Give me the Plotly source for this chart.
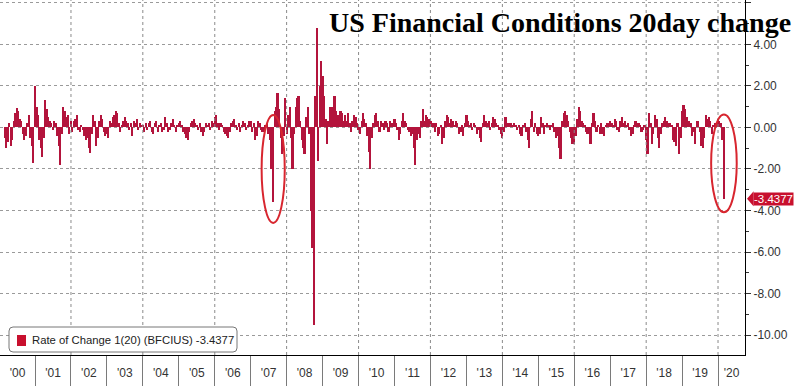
import pandas as pd
import plotly.graph_objects as go

# ---------------- data (semi-monthly samples) ----------------
TITLE = "US Financial Conditions 20day change"
SERIES_NAME = "Rate of Change 1(20) (BFCIUS)"
START = "2000-03-01"

V2000 = [-0.5, -1.0, -0.7, 0.2, -0.9, -0.6, 0.3, 0.7, 0.95, 0.8, 0.4, 0.3, -0.3, -0.6, -0.4, 0.2, 0.6, -0.5, -0.9, -1.7]
V2001 = [2.0, 1.0, 0.6, -0.6, -1.0, -1.4, -0.5, 1.3, 0.9, 0.5, 0.3, 0.2, -0.1, 0.3, 0.2, -0.4, -0.9, -1.8, -0.3, 1.0, 0.8, 0.5, 0.6, -0.3]
V2002 = [0.3, -0.2, 0.3, 0.4, 0.6, -0.1, -0.2, 0.1, -0.1, -0.4, -0.6, -0.5, -1.0, -1.25, -0.3, 0.6, 0.3, -0.9, -0.5, 0.3, 0.6, 0.4, -0.2, -0.4]
V2003 = [-0.3, -0.5, 0.3, 0.2, 0.5, 0.6, 0.8, 0.7, 0.2, -0.2, 0.1, 0.3, 0.5, 0.3, 0.2, -0.1, 0.2, -0.4, 0.3, 0.2, 0.4, -0.1, 0.2, 0.1]
V2004 = [0.1, -0.2, 0.2, -0.1, 0.2, 0.3, -0.2, -0.3, 0.2, 0.3, -0.2, 0.1, 0.2, -0.2, -0.1, 0.5, 0.2, -0.2, -0.1, 0.2, 0.4, 0.1, -0.2, 0.1]
V2005 = [0.2, 0.3, 0.1, -0.2, -0.3, -0.5, -0.6, -0.2, 0.2, 0.3, 0.4, 0.2, 0.1, -0.1, 0.2, -0.2, -0.4, -0.2, 0.2, 0.1, 0.2, -0.1, 0.3, 0.2]
V2006 = [0.5, 0.6, 0.2, -0.1, 0.2, 0.1, -0.2, -0.3, -0.4, -0.5, -0.2, 0.2, 0.3, 0.4, 0.1, -0.1, 0.2, -0.2, 0.1, 0.3, 0.2, -0.1, 0.1, 0.3]
V2007 = [0.3, -0.2, 0.2, -0.6, -0.4, 0.3, 0.2, -0.1, -0.2, -0.2, 0.1, 0.2, -0.3, -0.6, -2.0, -3.6, 0.8, 1.0, 1.65, 0.9, -0.5, -1.3, -0.4, 1.4]
V2008 = [-0.3, 0.6, 1.0, -0.5, -2.0, -0.3, 1.0, 1.4, 1.5, 0.3, -0.6, -1.0, -1.3, 0.5, 1.0, -0.3, -4.0, -5.8, -9.5, 1.5, 4.8, -1.6, 2.0, 3.2]
V2009 = [2.5, 1.5, 0.4, -0.8, 0.3, 1.0, 1.0, 0.8, 1.5, 0.8, 0.6, 0.3, 0.8, 0.7, 0.3, 0.6, 0.3, 0.7, 0.2, -0.2, 0.3, 0.6, 0.5, 0.2]
V2010 = [-0.1, -0.3, 0.3, 0.7, 0.4, 0.2, -0.4, -1.2, -2.0, -0.5, 0.2, 0.6, 0.7, 0.3, -0.2, 0.3, 0.2, -0.1, 0.3, 0.2, -0.2, 0.3, 0.2, 0.1]
V2011 = [0.4, 0.2, -0.1, -0.6, -0.3, 0.3, 0.7, 0.3, 0.2, -0.1, -0.2, -0.4, -0.3, -1.0, -1.8, -0.6, -0.3, -0.5, 0.3, 0.9, 0.3, 0.6, 0.5, 0.4]
V2012 = [0.3, 0.2, 0.2, -0.2, 0.2, -0.4, -0.3, 0.1, -0.8, -0.5, 0.3, 0.6, 0.5, 0.2, 0.4, 0.3, 0.1, 0.3, 0.2, -0.3, -0.2, 0.1, -0.4, 0.2]
V2013 = [0.6, 0.3, 0.1, 0.2, -0.1, 0.2, 0.1, -0.3, -0.1, -0.5, -0.7, 0.2, 0.6, 0.3, 0.2, 0.3, -0.1, 0.2, 0.5, 0.4, 0.2, 0.1, -0.1, -0.3]
V2014 = [-0.5, -0.2, 0.5, 0.2, 0.1, 0.2, 0.2, 0.1, 0.2, 0.1, -0.1, 0.1, -0.3, -0.4, 0.1, 0.2, -0.2, -0.6, -1.0, 0.4, 0.8, -0.2, 0.2, -0.3]
V2015 = [-0.4, -0.3, 0.5, 0.2, -0.3, 0.1, 0.2, 0.1, -0.1, 0.1, 0.2, -0.2, -0.5, -0.4, -1.0, -1.5, 0.3, 0.7, 0.8, 0.6, 0.3, -0.2, -0.5, -0.8]
V2016 = [-0.8, -0.4, 0.4, 1.0, 0.8, 0.3, 0.2, 0.1, -0.2, -0.3, -0.2, -0.8, 0.2, 0.7, 0.3, -0.2, 0.1, -0.3, 0.2, -0.3, -0.4, 0.1, 0.2, 0.2]
V2017 = [0.3, 0.2, 0.1, 0.4, 0.3, -0.1, -0.2, 0.3, 0.5, 0.2, 0.3, 0.1, 0.2, -0.1, -0.4, -0.3, 0.1, 0.3, 0.2, 0.2, 0.1, -0.2, -0.1, 0.1]
V2018 = [-0.6, -1.3, 0.7, 0.2, -0.8, -0.3, 0.6, 0.4, -0.5, -1.0, -0.3, 0.2, 0.3, 0.5, 0.3, 0.2, 0.2, 0.1, -0.6, -0.7, -0.9, 0.2, -1.3, -0.5]
V2019 = [0.8, 1.1, 0.9, 0.5, 0.3, 0.3, 0.2, -0.4, -0.2, -0.8, 0.3, 0.3, -0.2, -0.9, -1.0, -0.5, 0.6, 0.4, 0.5, 0.3, -0.3, 0.1, 0.2, 0.2]
V2020 = [0.4, 0.3, 0.2, -0.6, -3.4377]

YEAR_LABELS = ["'00", "'01", "'02", "'03", "'04", "'05", "'06", "'07", "'08", "'09", "'10",
               "'11", "'12", "'13", "'14", "'15", "'16", "'17", "'18", "'19", "'20"]
YEARS = list(range(2000, 2021))
GRID_YEARS = [2002, 2004, 2006, 2008, 2010, 2012, 2014, 2016, 2018, 2020]
Y_TICKS = [6, 4, 2, 0, -2, -4, -6, -8, -10]
Y_TICK_LABELS = ["6.00", "4.00", "2.00", "0.00", "-2.00", "-4.00", "-6.00", "-8.00", "-10.00"]
Y_MINOR = [5, 3, 1, -1, -3, -5, -7, -9]

# ---------------- style ----------------
BAR_COLOR = "#B3143C"
LABEL_BOX = "#C8102E"
RING_COLOR = "#D8262F"
GRID_COLOR = "#9a9a9a"
VGRID_COLOR = "#8a8a8a"
SANS = "Liberation Sans, Arial, sans-serif"
X_RANGE = [pd.Timestamp("2000-01-11"), pd.Timestamp("2020-10-01")]
Y_RANGE = [-10.96, 6.14]
BAR_WIDTH_MS = 22 * 86400000
PLOT_W, PLOT_H = 745, 355
LEG_BOX = (9, 237, 327, 352)     # px: left, right, top, bottom
LEG_SQUARE = (17, 26, 335, 346)
LEG_TEXT_X = 30

values = (V2000 + V2001 + V2002 + V2003 + V2004 + V2005 + V2006 + V2007 + V2008 + V2009 +
          V2010 + V2011 + V2012 + V2013 + V2014 + V2015 + V2016 + V2017 + V2018 + V2019 + V2020)
dates = pd.date_range(START, periods=len(values), freq="SMS")
last = values[-1]

# year label positions: centre of the visible part of each year
label_pos = []
for y in YEARS:
    a = max(pd.Timestamp(f"{y}-01-01"), X_RANGE[0])
    b = min(pd.Timestamp(f"{y + 1}-01-01"), X_RANGE[1])
    label_pos.append(a + (b - a) / 2)

# dotted vertical grid every other year, drawn as a line trace behind the bars
grid_x, grid_y = [], []
for y in GRID_YEARS:
    d = pd.Timestamp(f"{y}-01-01")
    grid_x += [d, d, None]
    grid_y += [Y_RANGE[0], Y_RANGE[1], None]

fig = go.Figure()
fig.add_trace(go.Scatter(
    x=grid_x, y=grid_y, mode="lines", showlegend=False, hoverinfo="skip",
    line=dict(color=VGRID_COLOR, width=1, dash="dot"),
))
fig.add_trace(go.Bar(
    x=dates, y=values, name=f"{SERIES_NAME} {last:.4f}",
    width=BAR_WIDTH_MS, showlegend=False,
    marker=dict(color=BAR_COLOR, line=dict(width=0)),
))

fig.update_layout(
    width=800, height=386,
    margin=dict(l=0, r=55, t=0, b=31),
    plot_bgcolor="white", paper_bgcolor="white",
    bargap=0,
    showlegend=False,
    xaxis=dict(
        type="date", range=X_RANGE,
        tickmode="array", tickvals=label_pos, ticktext=YEAR_LABELS,
        ticks="", showgrid=False, zeroline=False,
        showline=True, linecolor="black", linewidth=1,
        tickfont=dict(family=SANS, size=12, color="#333"),
        ticklabelstandoff=7,
        minor=dict(tickmode="array",
                   tickvals=[pd.Timestamp(f"{y}-01-01") for y in YEARS],
                   ticks="outside", ticklen=31, tickcolor="#7a7a7a", tickwidth=1,
                   showgrid=False),
    ),
    yaxis=dict(
        side="right", range=Y_RANGE,
        tickmode="array", tickvals=Y_TICKS, ticktext=Y_TICK_LABELS,
        ticks="outside", ticklen=5, tickcolor="#333",
        showline=True, linecolor="black", linewidth=1,
        showgrid=True, gridcolor=GRID_COLOR, griddash="dot", gridwidth=1,
        zeroline=False,
        tickfont=dict(family=SANS, size=12, color="#333"),
        minor=dict(tickmode="array", tickvals=Y_MINOR, ticks="outside",
                   ticklen=3, tickcolor="#333", showgrid=False),
    ),
)

# title, right-aligned near the right edge of the page
fig.add_annotation(x=793 / PLOT_W, xref="paper", y=1 - 5 / PLOT_H, yref="paper",
                   xanchor="right", yanchor="top", showarrow=False,
                   text=f"<b>{TITLE}</b>",
                   font=dict(family="Liberation Serif, Times New Roman, serif", size=28,
                             color="black"))

# legend box (bottom-left, inside the plot): rounded frame, colour swatch, text
def px_x(p):
    return p / PLOT_W


def px_y(p):
    return (PLOT_H - p) / PLOT_H


l, r, t, b = LEG_BOX
rx, ry = 4 / PLOT_W, 4 / PLOT_H
L, R, T, B = px_x(l), px_x(r), px_y(t), px_y(b)
frame = (f"M {L + rx} {B} L {R - rx} {B} Q {R} {B} {R} {B + ry} L {R} {T - ry} "
         f"Q {R} {T} {R - rx} {T} L {L + rx} {T} Q {L} {T} {L} {T - ry} "
         f"L {L} {B + ry} Q {L} {B} {L + rx} {B} Z")
fig.add_shape(type="path", xref="paper", yref="paper", path=frame,
              fillcolor="white", line=dict(color="#777", width=1), layer="above")
sl, sr, st, sb = LEG_SQUARE
fig.add_shape(type="rect", xref="paper", yref="paper",
              x0=px_x(sl), x1=px_x(sr), y0=px_y(sb), y1=px_y(st),
              fillcolor=LABEL_BOX, line=dict(width=0), layer="above")
fig.add_annotation(x=px_x(LEG_TEXT_X), xref="paper", y=px_y((t + b) / 2), yref="paper",
                   xanchor="left", yanchor="middle", showarrow=False, align="left",
                   text=f"{SERIES_NAME} {last:.4f}",
                   font=dict(family=SANS, size=11.3, color="#222"))

# highlight rings around the 2007 drop and the latest reading
i07 = min(range(len(values)), key=lambda i: values[i] if dates[i].year == 2007 else 99)
rings = [
    (dates[i07], values[i07], 115, 120, 1.0, 0.6),
    (dates[-1], last, 130, 130, 0.65, 0.63),
]
for d, v, left_days, right_days, pad_below, top in rings:
    fig.add_shape(type="circle", xref="x", yref="y",
                  x0=d - pd.Timedelta(days=left_days), x1=d + pd.Timedelta(days=right_days),
                  y0=v - pad_below, y1=top,
                  line=dict(color=RING_COLOR, width=2), layer="above")

# last value tag on the right axis
fig.add_annotation(x=1, xref="paper", y=last, yref="y", xanchor="left", xshift=8,
                   text=f"{last:.4f}", showarrow=False, bgcolor=LABEL_BOX,
                   font=dict(family=SANS, size=11.5, color="white"), borderpad=0)
fig.add_shape(type="path", xref="paper", yref="y",
              path=f"M 1.0027 {last} L 1.0115 {last + 0.36} L 1.0115 {last - 0.36} Z",
              fillcolor=LABEL_BOX, line=dict(width=0))

fig.write_html("out.html", config={"displayModeBar": False},
               post_script="document.body.style.margin='0';")
